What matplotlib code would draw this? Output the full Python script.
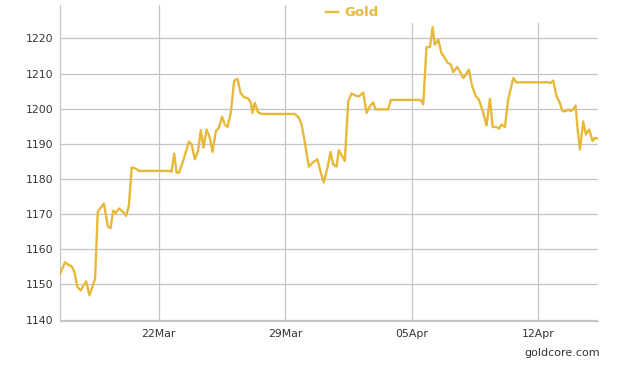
import datetime as dt
import matplotlib
matplotlib.use("Agg")
import matplotlib.pyplot as plt
import matplotlib.dates as mdates
from matplotlib.patches import Rectangle

# days since 16 Mar 2015, gold price (USD/oz)
days = [0.53, 0.81, 1.06, 1.18, 1.33, 1.48, 1.67, 1.98, 2.16, 2.47,
        2.62, 2.96, 3.18, 3.33, 3.47, 3.62, 3.79, 4.01, 4.19, 4.34,
        4.50, 4.71, 4.89, 6.61, 6.70, 6.85, 6.98, 7.12, 7.34, 7.66,
        7.81, 7.99, 8.17, 8.32, 8.47, 8.64, 8.82, 8.97, 9.15, 9.32,
        9.50, 9.65, 9.80, 9.98, 10.17, 10.35, 10.52, 10.70, 10.94, 11.09,
        11.18, 11.31, 11.49, 11.68, 13.53, 13.75, 13.90, 14.08, 14.30, 14.54,
        14.78, 14.96, 15.13, 15.34, 15.50, 15.64, 15.83, 15.96, 16.14, 16.29,
        16.48, 16.66, 16.90, 17.07, 17.31, 17.49, 17.68, 17.86, 17.99, 18.69,
        18.84, 20.48, 20.63, 20.81, 21.00, 21.15, 21.27, 21.46, 21.64, 21.83,
        21.98, 22.14, 22.29, 22.51, 22.66, 22.84, 22.99, 23.15, 23.34, 23.52,
        23.71, 23.95, 24.13, 24.32, 24.47, 24.69, 24.83, 24.96, 25.15, 25.33,
        25.61, 25.79, 27.54, 27.68, 27.82, 28.01, 28.19, 28.34, 28.52, 28.65,
        28.78, 28.93, 29.06, 29.20, 29.30, 29.48, 29.63, 29.81, 30.00, 30.13,
        30.30]
gold = [1153.0, 1156.3, 1155.4, 1155.2, 1153.5, 1149.4, 1148.3, 1150.9, 1146.9, 1151.6,
        1170.7, 1173.0, 1166.5, 1166.0, 1171.0, 1170.3, 1171.6, 1170.7, 1169.5, 1172.4,
        1183.3, 1183.0, 1182.3, 1182.3, 1182.0, 1187.2, 1181.8, 1181.8, 1185.1, 1190.6,
        1189.9, 1185.6, 1188.0, 1193.9, 1189.0, 1194.1, 1191.7, 1187.7, 1193.6, 1194.6,
        1197.7, 1195.5, 1194.8, 1198.8, 1208.0, 1208.5, 1204.5, 1203.3, 1202.9, 1201.7,
        1198.8, 1201.7, 1199.0, 1198.5, 1198.5, 1197.4, 1195.5, 1190.3, 1183.5, 1184.8,
        1185.6, 1181.8, 1179.0, 1183.5, 1187.7, 1184.2, 1183.5, 1188.2, 1186.5, 1185.1,
        1202.1, 1204.3, 1203.7, 1203.5, 1204.6, 1198.8, 1200.7, 1201.8, 1199.8, 1199.8,
        1202.5, 1202.5, 1201.2, 1217.5, 1217.5, 1223.2, 1218.2, 1219.6, 1215.8, 1214.4,
        1213.0, 1212.7, 1210.4, 1211.9, 1210.6, 1208.7, 1209.7, 1211.1, 1206.4, 1203.7,
        1202.6, 1198.8, 1195.2, 1202.8, 1194.8, 1194.8, 1194.3, 1195.5, 1194.8, 1202.6,
        1208.7, 1207.5, 1207.5, 1207.3, 1208.0, 1203.5, 1201.6, 1199.3, 1199.3, 1199.8,
        1199.3, 1199.8, 1200.9, 1192.7, 1188.4, 1196.4, 1192.7, 1194.1, 1190.8, 1191.7,
        1191.5]
tick_days = [6, 13, 20, 27]
yticks = [1140, 1150, 1160, 1170, 1180, 1190, 1200, 1210, 1220]

start = dt.datetime(2015, 3, 16)
x = [start + dt.timedelta(days=d) for d in days]

gold_col = "#E6B93A"
grid_col = "#c4c4c4"
text_col = "#333333"

fig = plt.figure(figsize=(6.17, 3.65), dpi=100)
ax = fig.add_axes([60/617, 1 - 321/365, 538/617, 316/365])
ax.plot(x, gold, color=gold_col, lw=1.7, label="Gold", zorder=3)

ax.set_xlim(start + dt.timedelta(days=0.53), start + dt.timedelta(days=30.30))
ax.set_ylim(1139.6, 1229.5)
ax.set_yticks(yticks)
ax.set_xticks([start + dt.timedelta(days=d) for d in tick_days])
ax.xaxis.set_major_formatter(mdates.DateFormatter("%d%b"))
ax.grid(True, color=grid_col, lw=0.9)
ax.tick_params(length=0, labelsize=7.8, colors=text_col, pad=5)
ax.tick_params(axis="x", pad=6)
for s in ["top", "right"]:
    ax.spines[s].set_visible(False)
for s in ["left", "bottom"]:
    ax.spines[s].set_color(grid_col)
    ax.spines[s].set_linewidth(0.9)

# white band behind the legend, as in the original
fig.patches.append(Rectangle((290/617, 1 - 23/365), 327/617, 23/365,
                             transform=fig.transFigure, facecolor="white",
                             edgecolor="none", zorder=1))
leg = fig.legend(loc="center", bbox_to_anchor=(352/617, 1 - 13/365), frameon=False,
                 handlelength=0.9, handletextpad=0.5,
                 prop={"weight": "bold", "size": 9.5})
leg.set_zorder(2)
for t in leg.get_texts():
    t.set_color(gold_col)

fig.text(600/617, 1 - 353/365, "goldcore.com", ha="right", va="center",
         fontsize=8, color=text_col)

fig.savefig("out.png", dpi=100)
